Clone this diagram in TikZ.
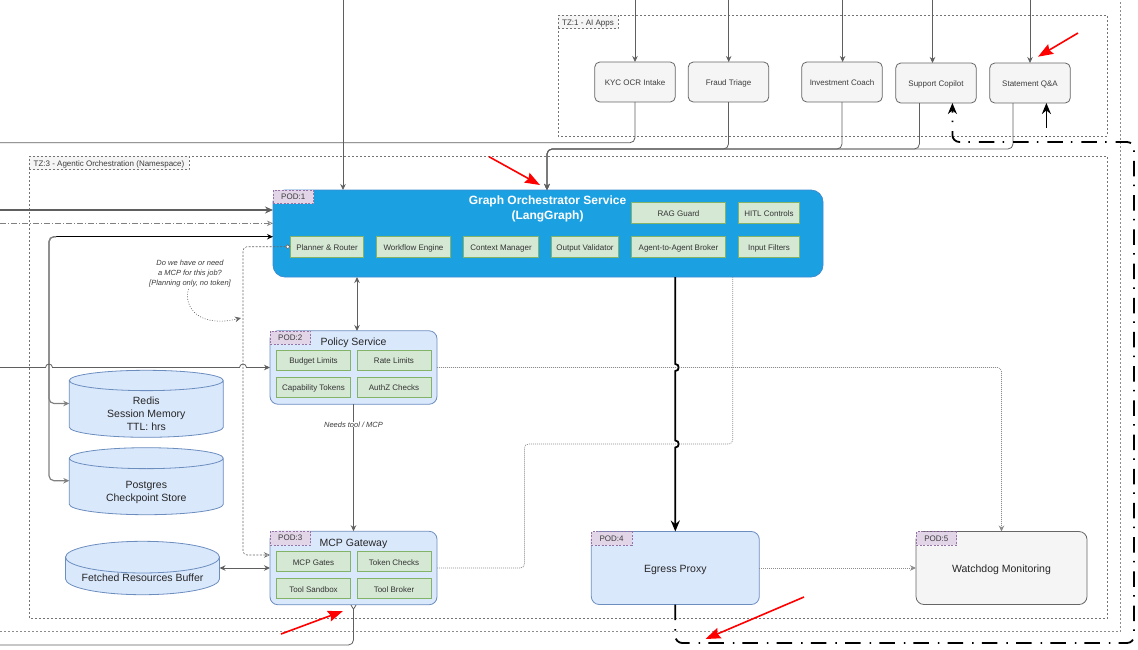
\documentclass[tikz,border=0pt]{standalone}
\usepackage{fontspec}
\setmainfont{Liberation Sans}
\usetikzlibrary{arrows.meta, shapes.geometric, calc}
\definecolor{appgray}{RGB}{245, 245, 245}
\definecolor{appedge}{RGB}{102, 102, 102}
\definecolor{podblue}{RGB}{218, 232, 252}
\definecolor{podedge}{RGB}{108, 142, 191}
\definecolor{subgreen}{RGB}{213, 232, 212}
\definecolor{subedge}{RGB}{130, 179, 102}
\definecolor{tagpurple}{RGB}{225, 213, 231}
\definecolor{tagedge}{RGB}{150, 115, 166}
\definecolor{orchblue}{RGB}{27, 161, 226}
\definecolor{orchedge}{RGB}{60, 140, 210}
\definecolor{inktext}{RGB}{60, 60, 60}
\definecolor{linkgray}{RGB}{95, 95, 95}
\newcommand{\fs}[2]{\fontsize{#1}{#2}\selectfont}
% text of a store, set lower than the middle of the cylinder
\newcommand{\storetext}[2]{\raisebox{#1}[0pt][0pt]{\begin{tabular}{@{}c@{}}#2\end{tabular}}}
% hop of a horizontal line over a vertical one
\newcommand{\hopup}[2]{-- ({#1-3.5},#2) .. controls ({#1-3.5},{#2-4.5}) and ({#1+3.5},{#2-4.5}) .. ({#1+3.5},#2)}
% hop of a vertical line round a horizontal one
\newcommand{\hopright}[2]{-- (#1,{#2-3.5}) .. controls ({#1+4.5},{#2-3.5}) and ({#1+4.5},{#2+3.5}) .. (#1,{#2+3.5})}
\tikzset{
    % Zones and their tags
    zone/.style={draw=black!55, line width=0.6pt, dash pattern=on 2pt off 2pt},
    zone tag/.style={
        rectangle, draw=black!55, fill=appgray, line width=0.5pt, dash pattern=on 2pt off 2pt,
        inner sep=0pt, outer sep=0pt, minimum height=13.5pt, anchor=north west,
        text=inktext, font=\fs{8}{10}, text height=8.5pt, text depth=1.5pt
    },
    % App boxes
    app box/.style={
        rectangle, rounded corners=5pt, draw=appedge, fill=appgray, line width=0.8pt,
        inner sep=0pt, outer sep=0pt, minimum width=80.5pt, minimum height=40pt,
        text=inktext, font=\fs{8}{10}, text height=8.5pt, text depth=1.5pt
    },
    % Pods
    pod box/.style={
        rectangle, rounded corners=8pt, draw=podedge, fill=podblue, line width=0.8pt,
        inner sep=0pt, outer sep=0pt, text=black!85, font=\fs{10.5}{13}, text height=11pt, text depth=2pt
    },
    pod title/.style={
        inner sep=0pt, text=black!85, font=\fs{10.5}{13}, text height=11pt, text depth=2pt
    },
    pod tag/.style={
        rectangle, draw=tagedge, fill=tagpurple, line width=0.5pt, dash pattern=on 2pt off 1.5pt,
        inner sep=0pt, outer sep=0pt, minimum width=40.5pt, minimum height=13.5pt, anchor=north west,
        text=inktext, font=\fs{8}{10}
    },
    % Green sub-boxes
    sub box/.style={
        rectangle, draw=subedge, fill=subgreen, line width=0.8pt,
        inner sep=0pt, outer sep=0pt, minimum height=20.5pt,
        text=black!80, font=\fs{8}{10}, text height=8.5pt, text depth=1.5pt
    },
    % Stores
    store/.style={
        cylinder, shape border rotate=90, aspect=0.26, draw=podedge, fill=podblue, line width=0.8pt,
        cylinder uses custom fill, cylinder body fill=podblue, cylinder end fill=podblue,
        inner sep=0pt, outer sep=0pt, anchor=south, text=black!85, font=\fs{10.5}{13}
    },
    % Arrows
    link/.style={-{Stealth[length=6pt,width=5.5pt]}, draw=linkgray, line width=0.8pt},
    double link/.style={{Stealth[length=6pt,width=5.5pt]}-{Stealth[length=6pt,width=5.5pt]}, draw=linkgray, line width=0.9pt},
    dotted link/.style={draw=black!45, line width=0.7pt, dash pattern=on 1pt off 1pt},
    heavy link/.style={-{Stealth[length=11pt,width=9pt]}, draw=black, line width=1.8pt},
    breakout/.style={-{Stealth[length=11pt,width=9pt]}, draw=black, line width=1.8pt, rounded corners=7pt,
        dash pattern=on 15.5pt off 9pt on 1.5pt off 8.2pt},
    callout/.style={-{Stealth[length=15pt,width=11pt,inset=2pt]}, draw=red, line width=1.6pt},
    note/.style={inner sep=0pt, align=center, text=inktext, font=\fs{7.5}{9.7}\itshape}
}
\begin{document}
\begin{tikzpicture}[x=1pt, y=-1pt]
    \useasboundingbox (0,0) rectangle (1138,649);

    % Outer zone and trust zones
    \draw[draw=black!45, line width=0.6pt, dash pattern=on 2pt off 2pt] (0,631.5) -- (1120,631.5) -- (1120,0);
    \draw[zone] (558,15) rectangle (1107,136);
    \node[zone tag, minimum width=60pt] (tzApps) at (558,15) {TZ:1 - AI Apps};
    \draw[zone] (29,156) rectangle (1107.5,618);
    \node[zone tag, minimum width=160pt] (tzOrch) at (29,156) {TZ:3 - Agentic Orchestration (Namespace)};

    % Apps
    \node[app box] (kyc) at (635,82) {KYC OCR Intake};
    \node[app box] (fraud) at (728.5,82) {Fraud Triage};
    \node[app box] (coach) at (842,82) {Investment Coach};
    \node[app box] (support) at (936,83) {Support Copilot};
    \node[app box] (statement) at (1030,83) {Statement Q\&A};

    % Orchestrator
    \node[rectangle, rounded corners=12pt, draw=orchedge, fill=orchblue, line width=0.8pt, inner sep=0pt, outer sep=0pt,
          minimum width=550pt, minimum height=87pt] (orch) at (548,233.5) {};
    \node[pod tag] (orchTag) at (orch.north west) {POD:1};
    \node[align=center, text=white, font=\fs{12}{15}\bfseries, inner sep=0pt] (orchTitle) at (547.5,209) {Graph Orchestrator Service\\(LangGraph)};
    \node[sub box, minimum width=73.5pt] (planner) at (327,246.7) {Planner \& Router};
    \node[sub box, minimum width=73.5pt] (workflow) at (413.5,246.7) {Workflow Engine};
    \node[sub box, minimum width=74.5pt] (context) at (501,246.7) {Context Manager};
    \node[sub box, minimum width=67.5pt] (validator) at (585,246.7) {Output Validator};
    \node[sub box, minimum width=94.5pt] (broker) at (678.5,246.7) {Agent-to-Agent Broker};
    \node[sub box, minimum width=60.5pt] (filters) at (769,246.7) {Input Filters};
    \node[sub box, minimum width=94.5pt] (rag) at (678.5,213) {RAG Guard};
    \node[sub box, minimum width=60.5pt] (hitl) at (769,213) {HITL Controls};

    % Policy Service
    \node[pod box, minimum width=167pt, minimum height=73.5pt] (policy) at (353.5,367.5) {};
    \node[pod tag] (policyTag) at (policy.north west) {POD:2};
    \node[pod title] (policyTitle) at (353.5,341) {Policy Service};
    \node[sub box, minimum width=74.5pt] (budget) at (313.5,360.3) {Budget Limits};
    \node[sub box, minimum width=74pt] (rate) at (394,360.3) {Rate Limits};
    \node[sub box, minimum width=74.5pt] (capability) at (313.5,387.3) {Capability Tokens};
    \node[sub box, minimum width=74pt] (authz) at (394,387.3) {AuthZ Checks};

    % MCP Gateway
    \node[pod box, minimum width=167pt, minimum height=73.5pt] (gateway) at (353.5,568) {};
    \node[pod tag] (gatewayTag) at (gateway.north west) {POD:3};
    \node[pod title] (gatewayTitle) at (353.5,542) {MCP Gateway};
    \node[sub box, minimum width=74.5pt] (gates) at (313.5,561.5) {MCP Gates};
    \node[sub box, minimum width=74pt] (tokens) at (394,561.5) {Token Checks};
    \node[sub box, minimum width=74.5pt] (sandbox) at (313.5,588.5) {Tool Sandbox};
    \node[sub box, minimum width=74pt] (toolbroker) at (394,588.5) {Tool Broker};

    % Egress and Watchdog
    \node[pod box, minimum width=168pt, minimum height=73pt] (egress) at (675.3,568) {Egress Proxy};
    \node[pod tag] (egressTag) at (egress.north west) {POD:4};
    \node[pod box, draw=appedge, fill=appgray, minimum width=171pt, minimum height=73pt] (watchdog) at (1001.5,568) {Watchdog Monitoring};
    \node[pod tag] (watchdogTag) at (watchdog.north west) {POD:5};

    % Stores
    \node[store, minimum width=154pt, minimum height=67pt] (redis) at (146.3,437.3) {\storetext{-9pt}{Redis\\Session Memory\\TTL: hrs}};
    \node[store, minimum width=154pt, minimum height=67pt] (postgres) at (146.3,514.7) {\storetext{-8pt}{Postgres\\Checkpoint Store}};
    \node[store, minimum width=154pt, minimum height=53.4pt] (fetched) at (142.5,594.7) {\storetext{-6pt}{Fetched Resources Buffer}};

    % Free ends
    \coordinate (topOrch) at (343,0);
    \coordinate (inThick) at (0,210);
    \coordinate (inDash) at (0,223.3);
    \coordinate (storeBack) at (273,236.7);
    \coordinate (storeRail) at (49,236.7);
    \coordinate (railStart) at (56,236.7);
    \coordinate (redisIn) at (69.3,403.5);
    \coordinate (postgresIn) at (69.3,480.7);
    \coordinate (inPolicy) at (0,367.5);
    \coordinate (inKyc) at (0,142.7);
    \coordinate (orchIn) at (547,190);
    \coordinate (busTurn) at (547,149);
    \coordinate (outGateway) at (0,645);
    \coordinate (plannerRail) at (243,246.7);
    \coordinate (orchDown) at (357,277);
    \coordinate (policyUp) at (357,331);
    \coordinate (corner1) at (675.3,643);
    \coordinate (corner2) at (1134,643);
    \coordinate (corner3) at (1134,142);
    \coordinate (supportBack) at (952.4,103);
    \coordinate (statementTurn) at (1046.4,142);
    \coordinate (statementBack) at (1046.4,103);
    \coordinate (supportOut) at ([xshift=-16.6pt]support.south);
    \coordinate (statementOut) at ([xshift=-17pt]statement.south);

    % Into the apps
    \foreach \name/\xpos in {kyc/635, fraud/728.7, coach/842.6, support/932.5, statement/1030} {
        \coordinate (top\name) at (\xpos,0);
        \draw[link] (top\name) -- (top\name |- \name.north);
    }

    % Out of the apps
    \draw[link, -, rounded corners=5pt] (kyc.south) |- (inKyc);
    \foreach \from in {fraud.south, coach.south, supportOut, statementOut} {
        \draw[link, rounded corners=5pt] (\from) |- (busTurn) -- (orchIn);
    }

    % Into the orchestrator
    \draw[link] (topOrch) -- (topOrch |- orch.north);
    \draw[link, line width=1.2pt, -{Stealth[length=8pt,width=7pt]}] (inThick) -- (inThick -| orch.west);
    \draw[link, draw=black!50, line width=0.6pt, dash pattern=on 6pt off 2pt on 1pt off 2pt, -{Stealth[open,length=6pt,width=5.5pt]}] (inDash) -- (inDash -| orch.west);

    % Stores to the orchestrator
    \draw[link, draw=black, line width=0.9pt] (railStart) -- (storeBack);
    \draw[link, draw=black!50, line width=1.2pt, rounded corners=5pt] (railStart) -- (storeRail) |- (redisIn);
    \draw[link, draw=black!50, line width=1.2pt, rounded corners=5pt] (railStart) -- (storeRail) |- (postgresIn);

    % Pod links
    \draw[double link] (orchDown) -- (policyUp);
    \draw[link] (policy.south) -- node[note, fill=white, pos=0.16] (needsLabel) {Needs tool / MCP} (gateway.north);
    \draw[double link] (fetched.east |- gateway.west) -- (gateway.west);
    \draw[link] (inPolicy) \hopup{49}{367.5} \hopup{243}{367.5} -- (policy.west);
    \draw[link, {Straight Barb[reversed,length=4pt,width=5pt]}-, rounded corners=5pt] (gateway.south) |- (outGateway);

    % Planner lookup
    \draw[link, draw=black!60, line width=0.6pt, dash pattern=on 2pt off 1.5pt, rounded corners=4pt,
          {Diamond[open,fill=white,length=5pt,width=5pt]}-{Stealth[open,length=6pt,width=5.5pt]}]
        (planner.west) -- (plannerRail) |- ([yshift=13pt]gateway.west);
    \node[note] (plannerNote) at (190,273.5) {Do we have or need\\a MCP for this job?\\{[}Planning only, no token{]}};
    \coordinate (noteArrow) at (241,318);
    \draw[link, draw=black!60, line width=0.6pt, dash pattern=on 1pt off 1.5pt]
        (188.5,289) .. controls (183,308) and (200,328) .. (noteArrow);

    % Egress path
    \draw[heavy link] (orch.south -| egress.north) \hopright{675.3}{367.5} \hopright{675.3}{444} -- (egress.north);
    \draw[breakout] (egress.south) -- (corner1) -- (corner2) -- (corner3) -| (supportBack);
    \draw[breakout, dash pattern=on 0pt off 5pt on 1.5pt off 8pt on 30pt] (statementTurn) -- (statementBack);

    % Dotted links
    \draw[dotted link, rounded corners=4pt] (gateway.east) -- (524.4,568) -- (524.4,444) -- (732.7,444) -- (732.7,277);
    \draw[dotted link, -{Stealth[length=6pt,width=5.5pt]}, rounded corners=4pt] (policy.east) -| (watchdog.north);
    \draw[dotted link, -{Stealth[length=6pt,width=5.5pt]}] (egress.east) -- (watchdog.west);

    % Red callouts
    \coordinate (callAFrom) at (1078,33);
    \coordinate (callATo) at (1038,56.7);
    \coordinate (callBFrom) at (489,156.7);
    \coordinate (callBTo) at (540,185);
    \coordinate (callCFrom) at (281,634);
    \coordinate (callCTo) at (343,611);
    \coordinate (callDFrom) at (804,597);
    \coordinate (callDTo) at (705.5,639);
    \draw[callout] (callAFrom) -- (callATo);
    \draw[callout] (callBFrom) -- (callBTo);
    \draw[callout] (callCFrom) -- (callCTo);
    \draw[callout] (callDFrom) -- (callDTo);

\end{tikzpicture}
\end{document}
